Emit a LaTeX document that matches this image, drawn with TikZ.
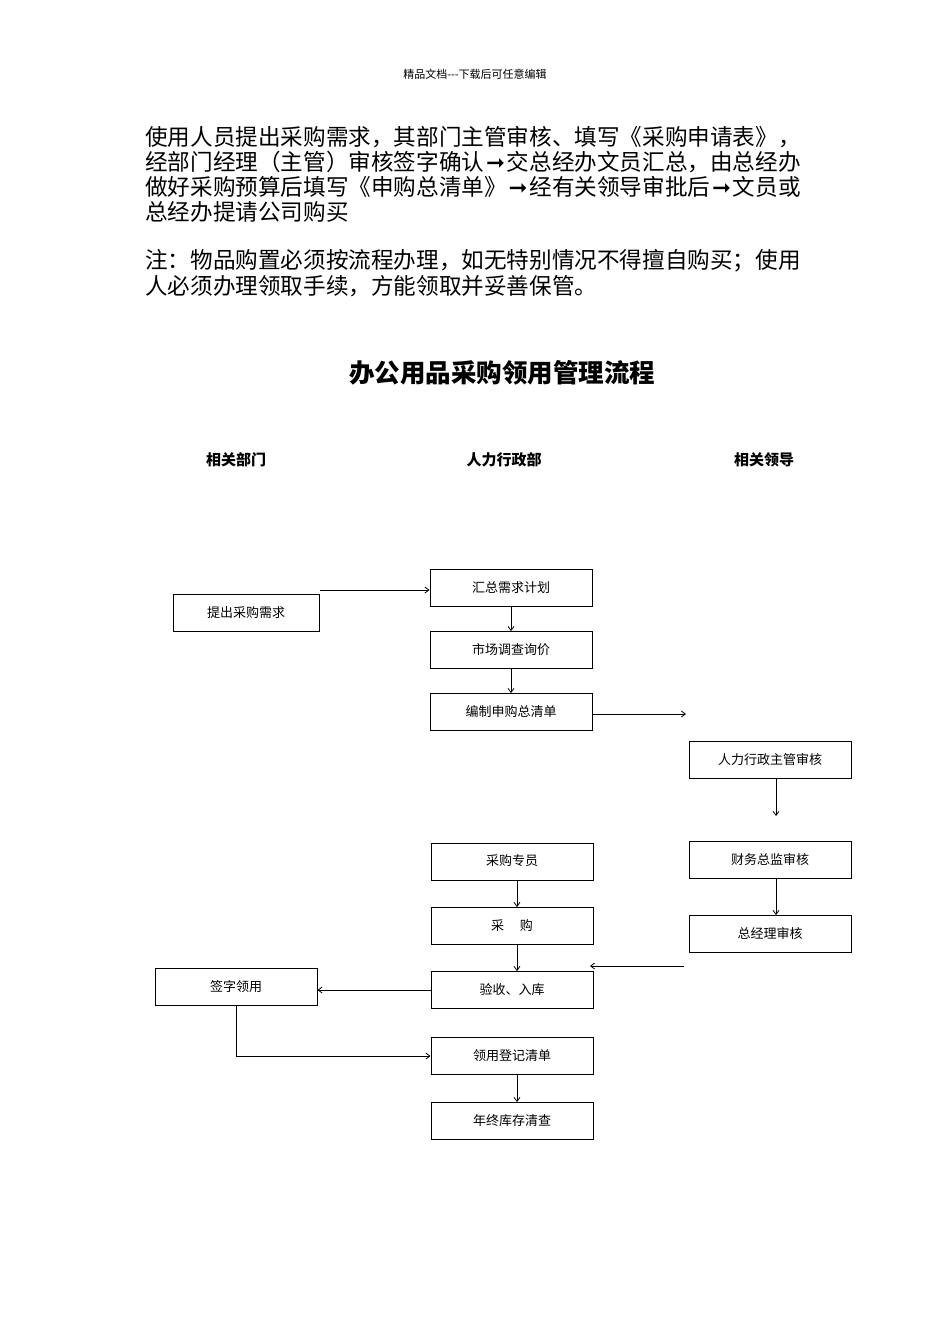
\documentclass[tikz,border=0pt]{standalone}
\usepackage{fontspec}
\setmainfont{Noto Sans CJK SC}
\newfontfamily\djv{DejaVu Sans}
\newcommand{\myarr}{\makebox[1em]{\djv\bfseries ➞}}
\usetikzlibrary{arrows.meta}
\begin{document}
\begin{tikzpicture}[x=1pt,y=-1pt,
 bx/.style={draw,line width=1pt,minimum width=162pt,minimum height=37pt,inner sep=0pt,font=\fontsize{13}{15}\selectfont},
 ar/.style={-{Straight Barb[length=4pt,width=6pt]},line width=0.8pt},
 ln/.style={anchor=west,inner sep=0pt,font=\fontsize{22.6}{24}\selectfont},
 lane/.style={font=\fontsize{15}{18}\selectfont\bfseries}]
\useasboundingbox (0,0) rectangle (950,1344);
\node (hdr) at (475,74) {\fontsize{11}{13}\selectfont 精品文档-{}-{}-下载后可任意编辑};
\node[ln] (l1) at (145,137) {使用人员提出采购需求，其部门主管审核、填写《采购申请表》，};
\node[ln] (l2) at (145,162) {经部门经理（主管）审核签字确认\myarr 交总经办文员汇总，由总经办};
\node[ln] (l3) at (145,187) {做好采购预算后填写《申购总清单》\myarr 经有关领导审批后\myarr 文员或};
\node[ln] (l4) at (145,212) {总经办提请公司购买};
\node[ln] (l5) at (145,261) {注：物品购置必须按流程办理，如无特别情况不得擅自购买；使用};
\node[ln] (l6) at (145,286) {人必须办理领取手续，方能领取并妥善保管。};
\node (title) at (502,373) {\fontsize{25.5}{28}\selectfont\bfseries 办公用品采购领用管理流程};
\node[lane] (h1) at (236,460) {相关部门};
\node[lane] (h2) at (504,460) {人力行政部};
\node[lane] (h3) at (764,460) {相关领导};
\node[bx,minimum width=146pt] (a) at (246,613) {提出采购需求};
\node[bx] (b) at (511,588) {汇总需求计划};
\node[bx] (c) at (511,650) {市场调查询价};
\node[bx] (d) at (511,712) {编制申购总清单};
\node[bx] (e) at (770,760) {人力行政主管审核};
\node[bx] (f) at (770,860) {财务总监审核};
\node[bx] (g) at (770,934) {总经理审核};
\node[bx] (p) at (512,862) {\raisebox{3pt}{采购专员}};
\node[bx] (q) at (512,926) {采\hspace{1.2em}购};
\node[bx] (r) at (512,990) {验收、入库};
\node[bx] (s) at (236,987) {签字领用};
\node[bx] (t) at (512,1056) {领用登记清单};
\node[bx] (u) at (512,1121) {年终库存清查};
\coordinate (a1) at (320,590);
\draw[ar] (a1) -- (b.west |- a1);
\draw[ar] (b) -- (c);
\draw[ar] (c) -- (d);
\coordinate (d1) at (686,714);
\draw[ar] (d.east |- d1) -- (d1);
\coordinate (e1) at (776,816);
\draw[ar] (e.south -| e1) -- (e1);
\draw[ar] (f.south -| e1) -- (g.north -| e1);
\coordinate (g1) at (684,966);
\coordinate (g2) at (590,966);
\draw[ar] (g1) -- (g2);
\draw[ar] (p.south -| 517,0) -- (q.north -| 517,0);
\draw[ar] (q.south -| 517,0) -- (r.north -| 517,0);
\draw[ar] (r.west) -- (s.east |- r.west);
\draw[ar] (s.south) |- (t.west);
\draw[ar] (t.south -| 517,0) -- (u.north -| 517,0);
\end{tikzpicture}
\end{document}
